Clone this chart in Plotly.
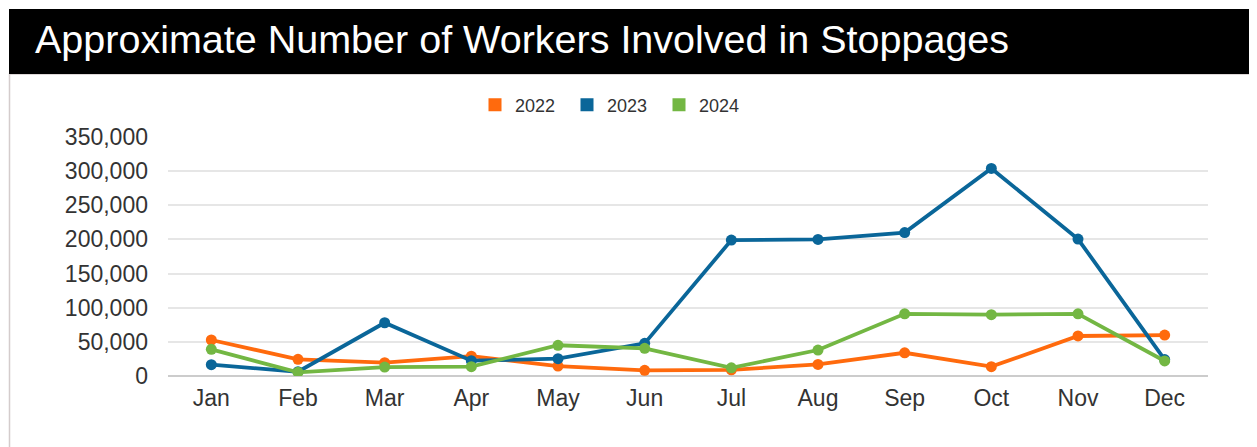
import plotly.graph_objects as go

months = ["Jan", "Feb", "Mar", "Apr", "May", "Jun", "Jul", "Aug", "Sep", "Oct", "Nov", "Dec"]
y2022 = [52700, 24400, 19500, 29000, 14600, 8300, 9000, 17000, 34000, 13700, 58600, 60000]
y2023 = [16600, 6300, 78000, 22400, 25400, 47800, 199000, 200000, 210000, 304000, 200600, 24000]
y2024 = [39000, 5400, 13000, 13700, 45000, 40500, 12000, 38000, 91000, 89800, 91000, 22000]
series_names = ["2022", "2023", "2024"]
colors = ["#FF6A0D", "#0A6699", "#73B743"]
title_text = "Approximate Number of Workers Involved in Stoppages"
ytick_vals = [0, 50000, 100000, 150000, 200000, 250000, 300000, 350000]

FONT = "Liberation Sans"
fig = go.Figure()
for name, vals, col in zip(series_names, [y2022, y2023, y2024], colors):
    fig.add_trace(go.Scatter(x=months, y=vals, mode="lines+markers", name=name,
                             line=dict(color=col, width=3.8),
                             marker=dict(color=col, size=11),
                             showlegend=False, hoverinfo="x+y"))
for name, col in zip(series_names, colors):
    fig.add_trace(go.Scatter(x=[None], y=[None], mode="markers", name=name,
                             marker=dict(color=col, size=13, symbol="square"),
                             showlegend=True))

OFF = 8  # page body margin
W, H = 1257 - OFF, 447 - OFF
# plot area in page (reference) pixels
PL, PR, PT, PB = 168, 1208, 137, 376
L, R, T, B = PL - OFF, W - (PR - OFF), PT - OFF, H - (PB - OFF)
pw, ph = W - L - R, H - T - B

def px(x):
    return (x - OFF - L) / pw

def py(y):
    return (H - B - (y - OFF)) / ph

fig.update_layout(
    width=W, height=H,
    margin=dict(l=L, r=R, t=T, b=B, autoexpand=False),
    paper_bgcolor="white", plot_bgcolor="white",
    font=dict(family=FONT, color="#333333"),
    showlegend=True,
    legend=dict(orientation="h", x=px(475), xanchor="left", y=py(105), yanchor="middle",
                font=dict(size=18, color="#333333"), entrywidth=47, entrywidthmode="pixels",
                bgcolor="rgba(0,0,0,0)", itemclick=False),
    shapes=[
        dict(type="rect", xref="paper", yref="paper", x0=px(9.5), x1=px(1255.5), y0=py(74), y1=py(460),
             line=dict(color="#d4cccc", width=1.5), fillcolor="rgba(0,0,0,0)", layer="below"),
        dict(type="rect", xref="paper", yref="paper", x0=px(9), x1=px(1270), y0=py(74), y1=py(9),
             line=dict(width=0), fillcolor="black", layer="above"),
    ],
    annotations=[
        dict(text=title_text, xref="paper", yref="paper", x=px(33), y=py(39.5), xanchor="left",
             yanchor="middle", showarrow=False, font=dict(family=FONT, size=39.5, color="white")),
    ],
)
fig.update_xaxes(type="category", range=[-0.5, 11.5], showgrid=False, showline=False,
                 tickfont=dict(size=23, color="#333333"), ticks="", ticklabelstandoff=6)
fig.update_yaxes(range=[0, 350000], tickvals=ytick_vals, tickformat=",d",
                 showgrid=True, gridcolor="#e6e6e6", gridwidth=1.5,
                 zeroline=True, zerolinecolor="#cccccc", zerolinewidth=1.5,
                 showline=False, ticks="", ticklabelstandoff=19,
                 tickfont=dict(size=23, color="#333333"))

fig.write_html("out.html")
